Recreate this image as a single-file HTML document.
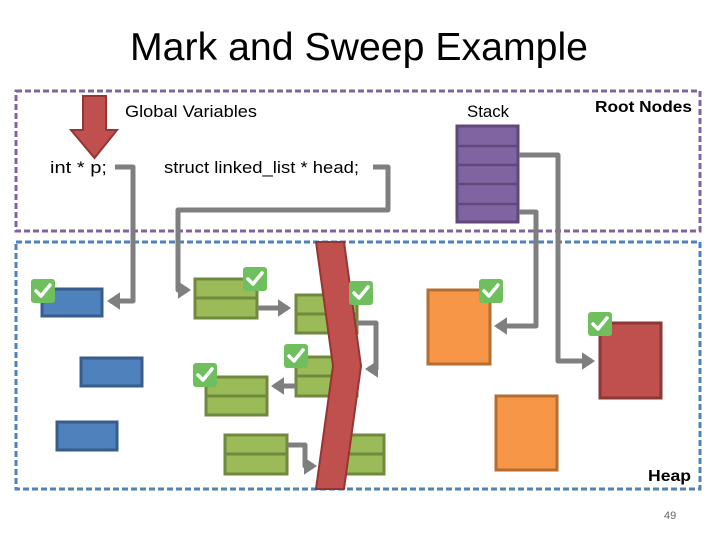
<!DOCTYPE html>
<html><head><meta charset="utf-8"><style>
html,body{margin:0;padding:0;background:#fff;}
svg text{font-family:"Liberation Sans",sans-serif;}
</style></head><body>
<svg width="720" height="540" viewBox="0 0 720 540" xmlns="http://www.w3.org/2000/svg">
<defs>
<marker id="ah" markerWidth="4" markerHeight="4" refX="2" refY="1.75" orient="auto" markerUnits="strokeWidth"><path d="M0,0 L2.6,1.75 L0,3.5 z" fill="#7f7f7f"/></marker>
<g id="chk"><rect x="0" y="0" width="24" height="24" rx="3" fill="#6fbf5f"/><path d="M5,12 L10,17 L19,6" stroke="#fff" stroke-width="3.5" fill="none" stroke-linecap="round" stroke-linejoin="round"/></g>
</defs>
<text x="130" y="60" font-size="39" textLength="458" lengthAdjust="spacingAndGlyphs" fill="#000">Mark and Sweep Example</text>
<rect x="16" y="91" width="684" height="140" fill="none" stroke="#8064a2" stroke-width="3" stroke-dasharray="6,3"/>
<rect x="16" y="242" width="684" height="247" fill="none" stroke="#4f81bd" stroke-width="3" stroke-dasharray="6,3"/>
<text x="125" y="117" font-size="17" textLength="132" lengthAdjust="spacingAndGlyphs">Global Variables</text>
<text x="467" y="117" font-size="17" textLength="42" lengthAdjust="spacingAndGlyphs">Stack</text>
<text x="595" y="112" font-size="16" font-weight="bold" textLength="97" lengthAdjust="spacingAndGlyphs">Root Nodes</text>
<text x="50" y="173" font-size="17" textLength="57" lengthAdjust="spacingAndGlyphs">int * p;</text>
<text x="164" y="173" font-size="17" textLength="195" lengthAdjust="spacingAndGlyphs">struct linked_list * head;</text>
<text x="648" y="481" font-size="16" font-weight="bold" textLength="43" lengthAdjust="spacingAndGlyphs">Heap</text>
<text x="664" y="519" font-size="11" fill="#666">49</text>
<!-- red arrow -->
<path d="M83,96 L106,96 L106,130 L117,130 L94.5,158 L71,130 L83,130 z" fill="#c0504d" stroke="#943634" stroke-width="2"/>
<!-- stack -->
<rect x="457" y="126" width="61" height="96" fill="#8064a2" stroke="#5f497a" stroke-width="3"/>
<g stroke="#5f497a" stroke-width="2.5"><line x1="457" y1="146" x2="518" y2="146"/><line x1="457" y1="165" x2="518" y2="165"/><line x1="457" y1="184" x2="518" y2="184"/><line x1="457" y1="204" x2="518" y2="204"/></g>
<!-- heap boxes -->
<g fill="#4f81bd" stroke="#385d8a" stroke-width="3">
<rect x="42" y="289" width="60" height="27"/><rect x="81" y="358" width="61" height="28"/><rect x="57" y="422" width="60" height="28"/></g>
<g fill="#9bbb59" stroke="#71893f" stroke-width="3">
<rect x="195" y="279" width="62" height="39"/><line x1="195" y1="298" x2="257" y2="298"/>
<rect x="296" y="295" width="61" height="38"/><line x1="296" y1="314" x2="357" y2="314"/>
<rect x="296" y="357" width="61" height="39"/><line x1="296" y1="376" x2="357" y2="376"/>
<rect x="206" y="377" width="61" height="38"/><line x1="206" y1="396" x2="267" y2="396"/>
<rect x="225" y="435" width="62" height="39"/><line x1="225" y1="454" x2="287" y2="454"/>
<rect x="345" y="435" width="39" height="39"/><line x1="345" y1="454" x2="384" y2="454"/></g>
<rect x="428" y="290" width="62" height="74" fill="#f79646" stroke="#b66d31" stroke-width="3"/>
<rect x="496" y="396" width="61" height="74" fill="#f79646" stroke="#b66d31" stroke-width="3"/>
<rect x="600" y="323" width="61" height="75" fill="#c0504d" stroke="#8c3836" stroke-width="3"/>
<!-- connectors -->
<g fill="none" stroke="#7f7f7f" stroke-width="5" stroke-linejoin="round" marker-end="url(#ah)">
<path d="M115,167 L133,167 L133,301 L110,301"/>
<path d="M373,167 L388,167 L388,210 L178,210 L178,290 L188,290"/>
<path d="M257,308 L288,308"/>
<path d="M357,323 L376,323 L376,369 L368,369"/>
<path d="M296,386 L274,386"/>
<path d="M287,445 L305,445 L305,466 L314,466"/>
<path d="M519,155 L558,155 L558,361 L592,361"/>
<path d="M519,212 L536,212 L536,326 L497,326"/>
</g>
<!-- sweep band -->
<path d="M316,242 L344,242 L361,366 L344,489 L316,489 L333,366 z" fill="#c0504d" stroke="#943634" stroke-width="2"/>
<!-- checks -->
<use href="#chk" x="31" y="279"/><use href="#chk" x="243" y="267"/><use href="#chk" x="349" y="281"/>
<use href="#chk" x="284" y="344"/><use href="#chk" x="193" y="363"/><use href="#chk" x="479" y="279"/>
<use href="#chk" x="588" y="312"/>
</svg>
</body></html>
